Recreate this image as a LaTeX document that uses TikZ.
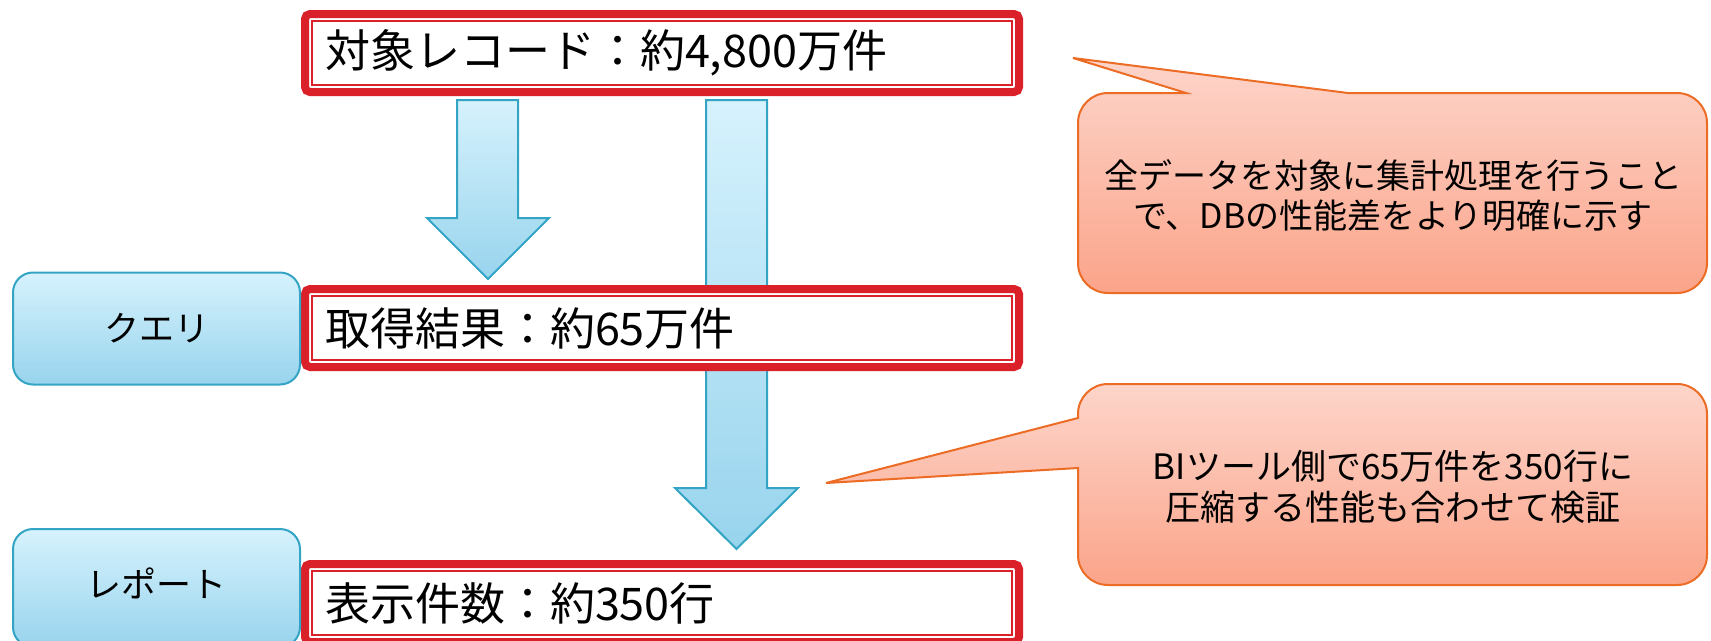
\documentclass[tikz,border=0pt]{standalone}
\usepackage{fontspec}
\setmainfont{Noto Sans CJK JP}
\definecolor{boxred}{RGB}{218,32,41}
\definecolor{blueline}{RGB}{52,164,196}
\definecolor{bluetop}{RGB}{214,242,253}
\definecolor{bluebot}{RGB}{152,212,237}
\definecolor{calline}{RGB}{236,108,38}
\definecolor{caltop}{RGB}{253,213,202}
\definecolor{calbot}{RGB}{251,164,138}
\begin{document}
\begin{tikzpicture}[x=1pt,y=-1pt,
  redbox/.style={draw=boxred, line width=8pt, rounded corners=5pt, fill=white,
    minimum width=714pt, minimum height=78pt, text width=674pt, inner xsep=20pt,
    inner ysep=0pt, align=left, outer sep=0pt, font=\fontsize{45}{50}\selectfont},
  redinner/.style={draw=boxred, line width=1.6pt},
  bluebox/.style={draw=blueline, line width=2pt, rounded corners=20pt,
    top color=bluetop, bottom color=bluebot, minimum width=287pt, outer sep=0pt},
  bluearrow/.style={draw=blueline, line width=2pt, top color=bluetop,
    bottom color=bluebot, line join=miter},
  callout/.style={draw=calline, line width=2pt, top color=caltop, bottom color=calbot},
  caltext/.style={align=center, inner sep=0pt},
  lbltext/.style={font=\fontsize{35}{40}\selectfont, inner sep=0pt}]
\useasboundingbox (0,0) rectangle (1711,640);
\clip (0,0) rectangle (1711,640);

% block arrows
\draw[bluearrow] (457,100) -- (518,100) -- (518,218) -- (549,218) -- (488,279)
  -- (427,218) -- (457,218) -- cycle;
\draw[bluearrow] (706,100) -- (767,100) -- (767,488) -- (798,488) -- (736.5,549)
  -- (675,488) -- (706,488) -- cycle;

% red boxes
\node[redbox] (b1) at (662,53) {対象レコード：約4,800万件};
\draw[redinner] ([shift={(7,7)}]b1.north west) rectangle ([shift={(-7,-7)}]b1.south east);
\node[redbox] (b2) at (662,328) {取得結果：約65万件};
\draw[redinner] ([shift={(7,7)}]b2.north west) rectangle ([shift={(-7,-7)}]b2.south east);
\node[redbox] (b3) at (662,603) {表示件数：約350行};
\draw[redinner] ([shift={(7,7)}]b3.north west) rectangle ([shift={(-7,-7)}]b3.south east);

% left labels
\node[bluebox, minimum height=112pt] (q) at (156.5,328.5) {};
\node[lbltext] (qt) at (q.center) {クエリ};
\node[bluebox, minimum height=118pt] (r) at (156.5,588) {};
\node[lbltext] (rt) at (156.5,583) {レポート};

% callouts
\draw[callout] (1400,93) -- (1677,93) .. controls (1693.6,93) and (1707,106.4) .. (1707,123)
  -- (1707,263) .. controls (1707,279.6) and (1693.6,293) .. (1677,293)
  -- (1108,293) .. controls (1091.4,293) and (1078,279.6) .. (1078,263)
  -- (1078,123) .. controls (1078,106.4) and (1091.4,93) .. (1108,93)
  -- (1186,93) -- (1073,58) -- (1348,93) -- cycle;
\node[caltext, font=\fontsize{34}{40}\selectfont] (c1) at (1393,195)
  {全データを対象に集計処理を行うこと\\で、DBの性能差をより明確に示す};

\draw[callout] (1400,384) -- (1677,384) .. controls (1693.6,384) and (1707,397.4) .. (1707,414)
  -- (1707,555) .. controls (1707,571.6) and (1693.6,585) .. (1677,585)
  -- (1108,585) .. controls (1091.4,585) and (1078,571.6) .. (1078,555)
  -- (1078,468) -- (826,483) -- (1078,418)
  -- (1078,414) .. controls (1078,397.4) and (1091.4,384) .. (1108,384) -- cycle;
\node[caltext, font=\fontsize{35}{41}\selectfont] (c2) at (1393,487)
  {BIツール側で65万件を350行に\\圧縮する性能も合わせて検証};
\end{tikzpicture}
\end{document}
